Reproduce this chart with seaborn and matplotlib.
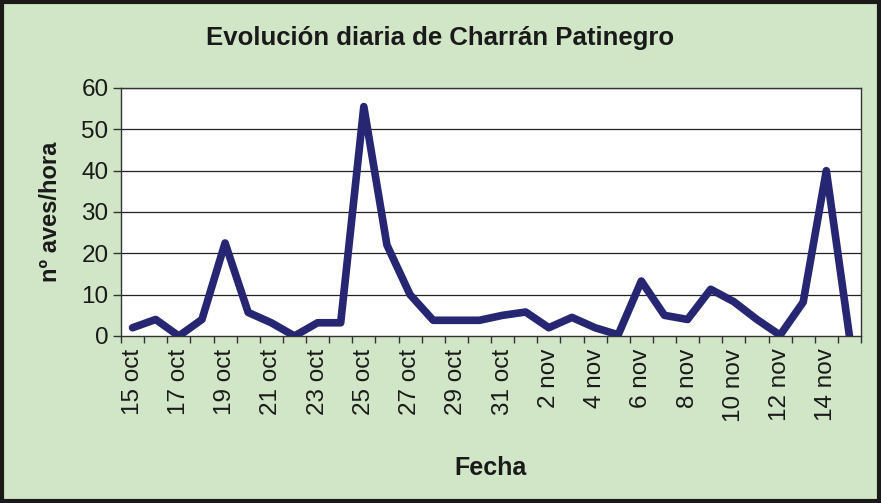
import matplotlib
matplotlib.use("Agg")
import matplotlib.pyplot as plt
import seaborn as sns
import pandas as pd
import numpy as np
from matplotlib.patches import Rectangle

fechas = ["15 oct", "16 oct", "17 oct", "18 oct", "19 oct", "20 oct", "21 oct", "22 oct",
          "23 oct", "24 oct", "25 oct", "26 oct", "27 oct", "28 oct", "29 oct", "30 oct",
          "31 oct", "1 nov", "2 nov", "3 nov", "4 nov", "5 nov", "6 nov", "7 nov",
          "8 nov", "9 nov", "10 nov", "11 nov", "12 nov", "13 nov", "14 nov", "15 nov"]
aves_hora = [2, 4, 0, 4, 22.5, 5.7, 3.2, 0, 3.2, 3.2, 55.5, 22, 10, 3.8, 3.8, 3.8,
             5, 5.8, 2, 4.5, 2, 0.3, 13.3, 5, 4, 11.3, 8.3, 4, 0.2, 8.2, 40, 0]
yticks = [0, 10, 20, 30, 40, 50, 60]

BG = "#D1E6C6"
LINE = "#262673"

sns.set_theme(style="white")
plt.rcParams["font.family"] = ["Liberation Sans", "DejaVu Sans"]

fig = plt.figure(figsize=(8.81, 5.03), dpi=100, facecolor=BG)
ax = fig.add_axes([121 / 881, 1 - 336 / 503, 740 / 881, 248 / 503])
ax.set_facecolor("white")

df = pd.DataFrame({"x": np.arange(len(fechas)), "y": aves_hora})
sns.lineplot(data=df, x="x", y="y", ax=ax, color=LINE, linewidth=5.5,
             solid_joinstyle="round", solid_capstyle="round", zorder=3, clip_on=True)

ax.set_xlim(-0.5, len(fechas) - 0.5)
ax.set_ylim(0, 60)
ax.set_yticks(yticks)
ax.set_yticklabels([str(v) for v in yticks], fontsize=17.5, color="#1a1a1a")
for v in yticks[1:]:
    ax.axhline(v, color="#222222", linewidth=0.9, zorder=1)

ax.set_xticks(np.arange(0, len(fechas), 2))
ax.set_xticklabels(fechas[::2], rotation=90, fontsize=17.5, color="#1a1a1a")
ax.set_xticks(np.arange(len(fechas) + 1) - 0.5, minor=True)
ax.tick_params(axis="x", which="major", length=0, pad=9)
ax.tick_params(axis="x", which="minor", length=5, width=1, color="#333333", direction="out", bottom=True)
ax.tick_params(axis="y", which="major", length=6, width=1, color="#333333", direction="out", left=True, pad=3)

for side in ["top", "right", "left", "bottom"]:
    ax.spines[side].set_visible(True)
    ax.spines[side].set_color("#333333")
    ax.spines[side].set_linewidth(1.0)

ax.set_xlabel("Fecha", fontsize=18, fontweight="bold", color="#1a1a1a", labelpad=25)
ax.set_ylabel("nº aves/hora", fontsize=17, fontweight="bold", color="#1a1a1a", labelpad=14)

fig.text(0.5, 1 - 38 / 503, "Evolución diaria de Charrán Patinegro", ha="center", va="center",
         fontsize=18.5, fontweight="bold", color="#1a1a1a")

fig.patches.append(Rectangle((0.002, 0.003), 0.996, 0.994, transform=fig.transFigure,
                             fill=False, edgecolor="#1a1a1a", linewidth=3, zorder=10))

fig.savefig("out.png", dpi=100, facecolor=BG)
